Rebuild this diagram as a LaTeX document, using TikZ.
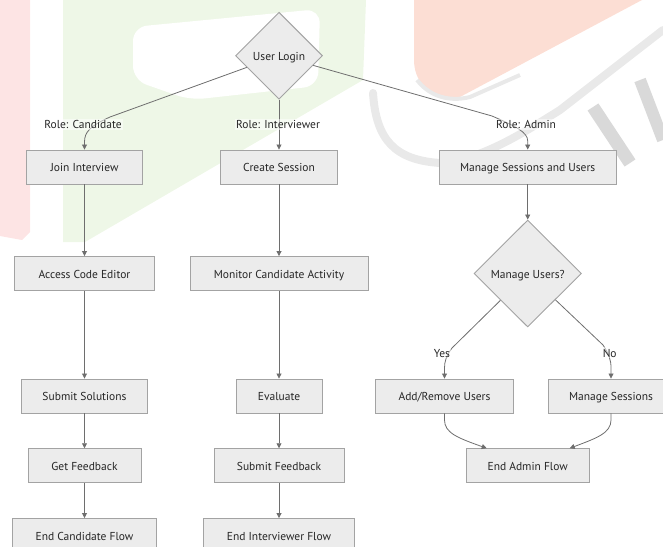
\documentclass[tikz,border=0pt]{standalone}
\usepackage{fontspec}
\setmainfont{PT Sans}
\usetikzlibrary{shapes.geometric,arrows.meta,calc}
\definecolor{boxfill}{HTML}{ECECEC}
\definecolor{boxline}{HTML}{A3A3A3}
\definecolor{edgec}{HTML}{6E6E6E}
\definecolor{txt}{HTML}{262626}
\definecolor{wmgreen}{HTML}{EEF7E7}
\definecolor{wmpink}{HTML}{FDE4E4}
\definecolor{wmsalmon}{HTML}{FCDED4}
\definecolor{wmgrey}{HTML}{E9E9E9}
\definecolor{wmgreyd}{HTML}{D9D9D9}
\begin{document}
\begin{tikzpicture}[x=1pt,y=-1pt,
  box/.style={draw=boxline, fill=boxfill, line width=0.9pt, minimum height=34pt,
    inner sep=0pt, text=txt, font=\fontsize{11.5}{13}\selectfont,
    text height=9pt, text depth=0pt},
  dia/.style={box, diamond, aspect=1},
  lbl/.style={text=txt, font=\fontsize{11.5}{13}\selectfont, inner sep=1pt,
    text height=9pt, text depth=0pt,
    fill=white, fill opacity=0.5, text opacity=1},
  arr/.style={draw=edgec, line width=0.8pt, -{Triangle[length=5pt,width=5pt]}}]
\useasboundingbox (0,0) rectangle (663,546);
% watermark
\begin{scope}
\clip (0,0) rectangle (663,546);
\fill[wmpink] (0,0) -- (30,0) -- (30,232) -- (22,240) -- (0,236) -- cycle;
\fill[wmgreen] (63,0) -- (366,0) -- (363,80) -- (85,242) -- (63,242) -- cycle;
\fill[white, rounded corners=14pt] (133,27) -- (320,9) -- (318,86) -- (190,100) -- (133,80) -- cycle;
\fill[wmsalmon] (414,0) -- (414,60) .. controls (414,88) and (438,100) .. (460,97) -- (642,0) -- cycle;
\draw[wmgrey, line width=4pt] (417,80) .. controls (430,97) and (450,102) .. (470,97) -- (520,75);
\draw[wmgrey, line width=8pt, line cap=round] (373,93) .. controls (376,140) and (395,160) .. (440,163) .. controls (480,160) and (520,135) .. (560,110) -- (663,30);
\draw[wmgreyd, line width=13pt] (593,107) -- (630,163);
\draw[wmgreyd, line width=12pt] (640,80) -- (663,140);
\end{scope}
% nodes
\node[dia, minimum width=87pt, minimum height=87pt] (login) at (279,55.7) {User Login};
\node[box, minimum width=116pt] (join) at (84.5,167) {Join Interview};
\node[box, minimum width=117pt] (create) at (279,167) {Create Session};
\node[box, minimum width=177.5pt] (msu) at (527.7,167) {Manage Sessions and Users};
\node[box, minimum width=140pt] (access) at (84.5,273.5) {Access Code Editor};
\node[box, minimum width=178pt] (monitor) at (279,273.5) {Monitor Candidate Activity};
\node[dia, minimum width=107.4pt, minimum height=107pt] (mu) at (527.7,273.5) {Manage Users?};
\node[box, minimum width=126.4pt] (subsol) at (84.5,396) {Submit Solutions};
\node[box, minimum width=86pt] (eval) at (279,396) {Evaluate};
\node[box, minimum width=138pt] (addrem) at (444.5,396) {Add/Remove Users};
\node[box, minimum width=124.4pt] (mansess) at (611,396) {Manage Sessions};
\node[box, minimum width=113pt] (getfb) at (84.5,465.7) {Get Feedback};
\node[box, minimum width=130pt] (subfb) at (279,465.7) {Submit Feedback};
\node[box, minimum width=122.6pt] (endadmin) at (527.7,465.7) {End Admin Flow};
\node[box, minimum width=143.7pt] (endcand) at (84.5,535.5) {End Candidate Flow};
\node[box, minimum width=150.5pt] (endint) at (279,535.5) {End Interviewer Flow};
% edges
\draw[arr] (login) -- (110,117) .. controls (90,126) and (84.5,132) .. (84.5,142) -- (join.north);
\draw[arr] (login) -- (create);
\draw[arr] (login) -- (492,116) .. controls (515,126) and (527.7,132) .. (527.7,141) -- (msu.north);
\draw[arr] (join) -- (access);
\draw[arr] (create) -- (monitor);
\draw[arr] (msu) -- (mu);
\draw[arr] (access) -- (subsol);
\draw[arr] (monitor) -- (eval);
\draw[arr] (mu) -- (452,348) .. controls (446,356) and (444.5,362) .. (444.5,368) -- (addrem.north);
\draw[arr] (mu) -- (603,345) .. controls (609,354) and (611,360) .. (611,368) -- (mansess.north);
\draw[arr] (subsol) -- (getfb);
\draw[arr] (eval) -- (subfb);
\draw[arr] (addrem.south) -- (444.5,420) .. controls (444.5,433) and (458,438) .. ($(endadmin.north)+(-41,0)$);
\draw[arr] (mansess.south) -- (611,420) .. controls (611,433) and (597,438) .. ($(endadmin.north)+(42,0)$);
\draw[arr] (getfb) -- (endcand);
\draw[arr] (subfb) -- (endint);
% labels
\node[lbl] (lcand) at (83,124) {Role: Candidate};
\node[lbl] (linter) at (278,124) {Role: Interviewer};
\node[lbl] (ladmin) at (526,124) {Role: Admin};
\node[lbl] (lyes) at (442,352.6) {Yes};
\node[lbl] (lno) at (609.7,352.6) {No};
\end{tikzpicture}
\end{document}
